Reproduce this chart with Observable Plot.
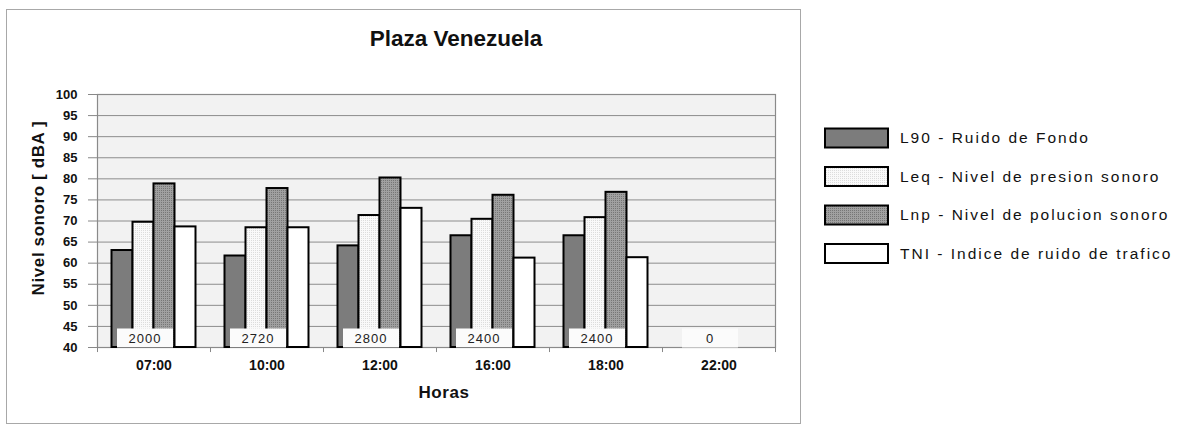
<!DOCTYPE html>
<html><head><meta charset="utf-8">
<script src="https://cdn.jsdelivr.net/npm/d3@7"></script>
<script src="https://cdn.jsdelivr.net/npm/@observablehq/plot@0.6"></script>
<style>
body{margin:0;background:#fff;font-family:"Liberation Sans",Arial,sans-serif;width:1178px;height:427px;overflow:hidden;position:relative;}
#frame{position:absolute;left:6px;top:9px;width:795px;height:415px;border:1.5px solid #a8a8a8;box-sizing:border-box;}
#title{position:absolute;left:0;width:912px;top:26px;text-align:center;font-weight:bold;font-size:22.5px;color:#111;}
#chart{position:absolute;left:7px;top:80px;}
#ytitle{position:absolute;left:39px;top:208px;transform:translate(-50%,-50%) rotate(-90deg);white-space:nowrap;font-weight:bold;font-size:17px;letter-spacing:0.6px;color:#111;}
#xtitle{position:absolute;left:444px;top:393px;transform:translate(-50%,-50%);font-weight:bold;font-size:17px;letter-spacing:0.6px;color:#111;}
#legend{position:absolute;left:822px;top:124px;}
#chart g[aria-label="text"] text{letter-spacing:1px;}
</style></head><body>
<svg width="0" height="0" style="position:absolute"><defs>
<pattern id="pLeq" width="2" height="2" patternUnits="userSpaceOnUse"><rect width="2" height="2" fill="#f9f9f9"/><rect width="1" height="1" fill="#dcdcdc"/></pattern>
<pattern id="pLnp" width="2" height="2" patternUnits="userSpaceOnUse"><rect width="2" height="2" fill="#a0a0a0"/><rect width="1" height="1" fill="#767676"/></pattern>
</defs></svg>
<div id="frame"></div>
<div id="title">Plaza Venezuela</div>
<div id="chart"></div>
<div id="ytitle">Nivel sonoro [ dBA ]</div>
<div id="xtitle">Horas</div>
<div id="legend"></div>
<script>
const hours = ["07:00", "10:00", "12:00", "16:00", "18:00", "22:00"];
const seriesNames = ["L90 - Ruido de Fondo", "Leq - Nivel de presion sonoro", "Lnp - Nivel de polucion sonoro", "TNI - Indice de ruido de trafico"];
const L90 = [63.0, 61.7, 64.1, 66.5, 66.5, null];
const Leq = [69.7, 68.4, 71.3, 70.4, 70.8, null];
const Lnp = [78.8, 77.7, 80.2, 76.1, 76.8, null];
const TNI = [68.6, 68.4, 73.0, 61.2, 61.3, null];
const vehicles = [2000, 2720, 2800, 2400, 2400, 0];
const yTicks = [40, 45, 50, 55, 60, 65, 70, 75, 80, 85, 90, 95, 100];
const yMin = 40, yMax = 100;

const fills = ["#7c7c7c", "url(#pLeq)", "url(#pLnp)", "#ffffff"];
const seriesValues = [L90, Leq, Lnp, TNI];

const W = 793, H = 343, ML = 90, MR = 25, MT = 14, MB = 76;
const bw = (W - ML - MR) / hours.length;
const barW = 21;
const groupStart = (bw - barW * 4) / 2;

const barMarks = seriesValues.map((vals, i) => {
  const rows = hours.map((h, j) => ({hour: h, v: vals[j]})).filter(d => d.v != null);
  return Plot.barY(rows, {
    x: "hour", y1: yMin, y2: "v",
    insetLeft: groupStart + barW * i,
    insetRight: bw - groupStart - barW * (i + 1),
    fill: fills[i], stroke: "#000", strokeWidth: 2
  });
});

const vRows = hours.map((h, j) => ({hour: h, v: vehicles[j]}));
const boxSymbol = {draw(ctx) { ctx.rect(-28, -9.5, 56, 19); }};

const chart = Plot.plot({
  width: W, height: H,
  marginLeft: ML, marginRight: MR, marginTop: MT, marginBottom: MB,
  style: {fontFamily: "'Liberation Sans', Arial, sans-serif", background: "transparent", color: "#111"},
  x: {domain: hours, padding: 0, round: false, label: null},
  y: {domain: [yMin, yMax], label: null},
  marks: [
    Plot.frame({fill: "#f2f2f2", stroke: "none"}),
    Plot.ruleY(yTicks, {stroke: "#8c8c8c", strokeWidth: 1}),
    Plot.frame({stroke: "#8a8a8a", strokeWidth: 1.2}),
    ...barMarks,
    Plot.dot(vRows, {x: "hour", y: yMin, dx: -9, dy: -9.5, symbol: boxSymbol, fill: "#fbfbfb", stroke: "none", r: 5}),
    Plot.text(vRows, {x: "hour", y: yMin, dx: -9, dy: -9, text: d => String(d.v), fontSize: 13, fill: "#222"}),
    Plot.ruleX(hours, {x: d => d, dx: -bw / 2, y1: yMin, y2: yMin - 1.2, stroke: "#888"}),
    Plot.ruleX([hours[hours.length - 1]], {x: d => d, dx: bw / 2, y1: yMin, y2: yMin - 1.2, stroke: "#888"}),
    Plot.axisY({ticks: yTicks, tickSize: 9, tickPadding: 11, fontSize: 13, fontWeight: "bold", stroke: "#888", fill: "#111", label: null}),
    Plot.axisX({tickSize: 0, tickPadding: 13, fontSize: 14, fontWeight: "bold", fill: "#111", label: null})
  ]
});
document.getElementById("chart").append(chart);

// legend
const lg = d3.select("#legend").append("svg").attr("width", 356).attr("height", 150);
seriesNames.forEach((name, i) => {
  const cy = 14 + i * 38.5;
  lg.append("rect").attr("x", 3).attr("y", cy - 9.5).attr("width", 63).attr("height", 19)
    .attr("fill", fills[i]).attr("stroke", "#000").attr("stroke-width", 2);
  lg.append("text").attr("x", 78).attr("y", cy).attr("dy", "0.35em")
    .attr("font-size", 15.5).attr("letter-spacing", "2px").attr("fill", "#111")
    .attr("font-family", "'Liberation Sans', Arial, sans-serif").text(name);
});
</script>
</body></html>
